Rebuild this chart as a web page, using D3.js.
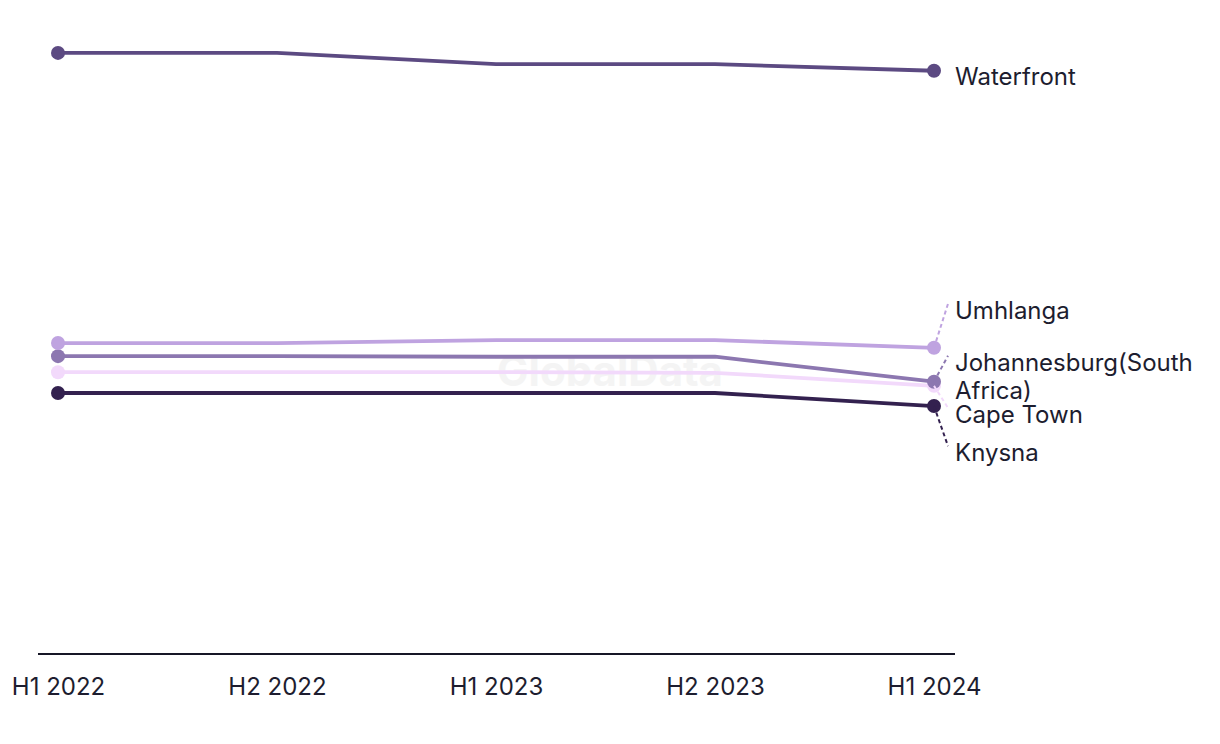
<!DOCTYPE html>
<html>
<head>
<meta charset="utf-8">
<script src="https://cdn.jsdelivr.net/npm/d3@7"></script>
<style>
  body { margin: 0; background: #fff; }
  svg { font-family: Inter, "Liberation Sans", sans-serif; }
</style>
</head>
<body>
<svg width="1220" height="744"></svg>
<script>
// Periods along the x axis
var periods = ['H1 2022', 'H2 2022', 'H1 2023', 'H2 2023', 'H1 2024'];

// Series values (no y axis shown)
var waterfront   = [101.1, 101.1, 99.2, 99.2, 98.1];
var umhlanga     = [52.3, 52.3, 52.8, 52.8, 51.5];
var johannesburg = [50.1, 50.1, 50.0, 50.0, 45.8];
var capeTown     = [47.4, 47.4, 47.4, 47.3, 45.1];
var knysna       = [43.9, 43.9, 43.9, 43.9, 41.7];

var seriesNames = ['Waterfront', 'Umhlanga', 'Johannesburg(South Africa)', 'Cape Town', 'Knysna'];
var seriesValues = [waterfront, umhlanga, johannesburg, capeTown, knysna];
var colors = ['#5c4a82', '#bfa3e0', '#8c77b0', '#f2d9fb', '#33214f'];

// label layout: shift from the last dot, and line wrapping
var labelShift = [6, -37, -19, 29, 47];
var labelLines = [['Waterfront'], ['Umhlanga'], ['Johannesburg(South', 'Africa)'], ['Cape Town'], ['Knysna']];

var margin = {top: 0, left: 58, right: 286, bottom: 90};
var width = 1220 - margin.left - margin.right;
var height = 744 - margin.bottom;

var x = d3.scalePoint().domain(periods).range([0, width]);
var y = d3.scaleLinear().domain([0, 110]).range([height, 0]);

var svg = d3.select('svg');
var chart = svg.append('g').attr('transform', 'translate(' + margin.left + ',' + margin.top + ')');

// faint watermark
chart.append('text')
  .attr('x', x(periods[2]) + 114)
  .attr('y', 386)
  .attr('text-anchor', 'middle')
  .attr('font-size', 42)
  .attr('font-weight', 700)
  .attr('fill', '#f4f4f4')
  .text('GlobalData');

// x axis
var xAxis = d3.axisBottom(x).tickSize(0).tickPadding(24);
var ax = chart.append('g').attr('transform', 'translate(0,' + height + ')').call(xAxis);
ax.select('.domain').attr('d', 'M-20,0H' + (width + 21)).attr('stroke', '#161626').attr('stroke-width', 2);
ax.selectAll('text').attr('font-size', 24).attr('fill', '#1d1d2f').attr('font-family', 'Inter, "Liberation Sans", sans-serif');

var series = seriesNames.map((n, i) => ({name: n, values: seriesValues[i], color: colors[i], shift: labelShift[i], lines: labelLines[i]}));
var drawOrder = [3, 4, 2, 1, 0].map(i => series[i]);

var line = d3.line().x((d, i) => x(periods[i])).y(d => y(d));

chart.selectAll('.line')
  .data(drawOrder).enter()
  .append('path')
  .attr('fill', 'none')
  .attr('stroke', d => d.color)
  .attr('stroke-width', 3.8)
  .attr('d', d => line(d.values));

// dots at first and last period
drawOrder.forEach(s => {
  [0, periods.length - 1].forEach(i => {
    chart.append('circle')
      .attr('cx', x(periods[i]))
      .attr('cy', y(s.values[i]))
      .attr('r', 7)
      .attr('fill', s.color);
  });
});

// end labels with dashed connectors
var last = periods.length - 1;
series.forEach(s => {
  var yEnd = y(s.values[last]);
  var ly = yEnd + s.shift;
  if (Math.abs(s.shift) > 10) {
    chart.append('line')
      .attr('x1', x(periods[last]))
      .attr('y1', yEnd)
      .attr('x2', x(periods[last]) + 14)
      .attr('y2', ly - 7)
      .attr('stroke', s.color)
      .attr('stroke-width', 2)
      .attr('stroke-dasharray', '4,3');
  }
  var t = chart.append('text')
    .attr('x', x(periods[last]) + 21)
    .attr('y', ly)
    .attr('font-size', 24)
    .attr('fill', '#1d1d2f');
  s.lines.forEach((l, j) => {
    t.append('tspan').attr('x', x(periods[last]) + 21).attr('dy', j === 0 ? '0.35em' : 28).text(l);
  });
});
</script>
</body>
</html>
